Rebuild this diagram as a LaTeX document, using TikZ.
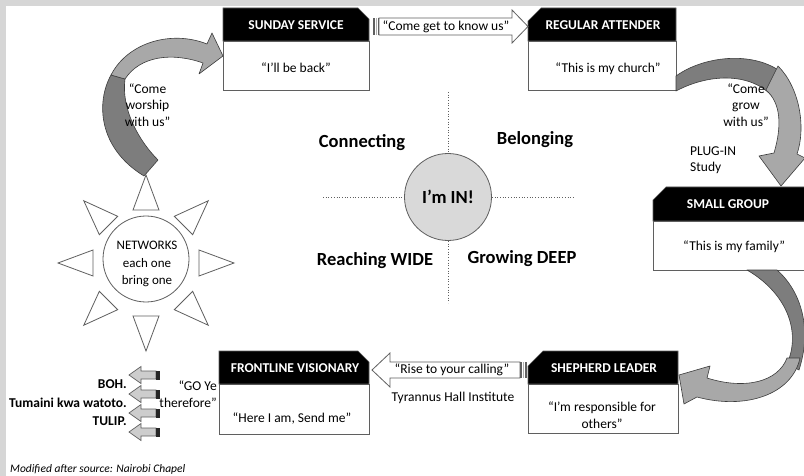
\documentclass[tikz,border=0pt]{standalone}
\usepackage{fontspec}
\setmainfont{Carlito}
\usetikzlibrary{calc}

\definecolor{edge}{RGB}{95,95,95}
\definecolor{bandedge}{RGB}{60,60,60}
\definecolor{bandlight}{RGB}{168,168,168}
\definecolor{banddark}{RGB}{125,125,125}
\definecolor{hubfill}{RGB}{217,217,217}
\definecolor{framegray}{RGB}{214,214,214}
\definecolor{tabfill}{RGB}{205,205,205}

\begin{document}
\begin{tikzpicture}[x=1pt, y=-1pt,
  hdrshape/.style={fill=black, draw=edge, line width=0.6pt},
  stagebody/.style={draw=edge, fill=white, line width=0.8pt, inner sep=0pt},
  hdrtext/.style={text=white, font=\fontsize{13.5}{15}\selectfont\bfseries},
  bodytext/.style={font=\fontsize{13.5}{16.5}\selectfont, align=center, inner sep=0pt},
  lbl/.style={font=\fontsize{13.5}{16.5}\selectfont, align=center, inner sep=0pt},
  boldlbl/.style={font=\fontsize{13.5}{18.5}\selectfont\bfseries, inner sep=0pt},
  quadrant/.style={font=\fontsize{18.5}{20}\selectfont\bfseries, inner sep=0pt},
  axis/.style={draw=edge, dotted, line width=0.7pt},
  band/.style={draw=bandedge, line width=0.6pt, line join=round},
  blockarrow/.style={draw=edge, fill=white, line width=0.8pt, line join=miter},
  ray/.style={draw=edge, fill=white, line width=0.8pt, line join=miter},
  tab/.style={draw=edge, fill=tabfill, line width=0.7pt, line join=miter}]

% page and frame strips
\useasboundingbox (0,0) rectangle (804,476);
\fill[white] (0,0) rectangle (804,476);
\fill[framegray] (0,0) rectangle (804,6);
\fill[framegray] (0,0) rectangle (6,476);

% ---------- stage boxes ----------
% Sunday service (clipped top-right corner)
\node[stagebody, minimum width=146pt, minimum height=49pt] (sunday) at (296,65.5) {};
\path[hdrshape] (223,8) -- (358,8) -- (369,19) -- (369,41) -- (223,41) -- cycle;
\node[hdrtext] (sundayhdr) at (296,25) {SUNDAY SERVICE};
\node[bodytext] (sundaytxt) at (296,68) {“I’ll be back”};

% Regular attender (clipped top-left corner)
\node[stagebody, minimum width=148pt, minimum height=49pt] (regular) at (602,65.5) {};
\path[hdrshape] (541,8) -- (676,8) -- (676,41) -- (528,41) -- (528,21) -- cycle;
\node[hdrtext] (regularhdr) at (603,25) {REGULAR ATTENDER};
\node[bodytext] (regulartxt) at (608,69) {“This is my church”};

% Small group (runs off the right edge)
\node[stagebody, minimum width=156pt, minimum height=49pt] (small) at (731,245.5) {};
\path[hdrshape] (666,187) -- (812,187) -- (812,221) -- (653,221) -- (653,200) -- cycle;
\node[hdrtext] (smallhdr) at (728,204) {SMALL GROUP};
\node[bodytext] (smalltxt) at (734,247) {“This is my family”};

% Shepherd leader
\node[stagebody, minimum width=150pt, minimum height=49pt] (shepherd) at (603,408.5) {};
\path[hdrshape] (543,351) -- (678,351) -- (678,384) -- (528,384) -- (528,366) -- cycle;
\node[hdrtext] (shepherdhdr) at (604,368) {SHEPHERD LEADER};
\node[bodytext] (shepherdtxt) at (602,415) {“I’m responsible for\\others”};

% Frontline visionary
\node[stagebody, minimum width=150pt, minimum height=50pt] (frontline) at (294,409) {};
\path[hdrshape] (219,351) -- (358,351) -- (369,362) -- (369,384) -- (219,384) -- cycle;
\node[hdrtext] (frontlinehdr) at (295,368) {FRONTLINE VISIONARY};
\node[bodytext] (frontlinetxt) at (292,418) {“Here I am, Send me”};

% ---------- straight block arrows ----------
\draw[blockarrow] (379,18) -- (512,18) -- (512,10) -- (528,26.5) -- (512,43) -- (512,35) -- (379,35) -- cycle;
\fill[edge] (373,18) rectangle (375,35);
\fill[edge!50] (375.6,18) rectangle (377,35);
\fill[edge] (377.6,18) rectangle (379,35);
\node[lbl] (knowus) at (446,27) {“Come get to know us”};

\draw[blockarrow] (520,362) -- (390,362) -- (390,353) -- (372,370) -- (390,387) -- (390,378) -- (520,378) -- cycle;
\fill[edge] (520,362) rectangle (522,378);
\fill[edge!50] (522.6,362) rectangle (524,378);
\fill[edge] (524.6,362) rectangle (526.5,378);
\node[lbl] (calling) at (452,370) {“Rise to your calling”};
\node[lbl] (tyrannus) at (453,398) {Tyrannus Hall Institute};

% ---------- curved ribbon arrows ----------
% networks -> Sunday service
\filldraw[band, fill=banddark] (111,75) .. controls (96,102) and (98,148) .. (144,176)
  -- (158,160) .. controls (138,140) and (121,108) .. (125,79) -- cycle;
\filldraw[band, fill=bandlight] (111,75) .. controls (128,42) and (172,30) .. (207,44)
  -- (212,33) -- (223,56) -- (199,74) -- (203,63)
  .. controls (172,52) and (140,56) .. (125,79) -- cycle;
\node[lbl] (worship) at (147.5,105) {“Come\\worship\\with us”};

% regular attender -> small group
\filldraw[band, fill=banddark] (676,76) .. controls (705,55) and (758,50) .. (786,76)
  -- (772,96) .. controls (752,74) and (712,72) .. (676,91) -- cycle;
\filldraw[band, fill=bandlight] (778,66) .. controls (800,88) and (806,128) .. (797,154)
  -- (805,158) -- (781,186) -- (759,156) -- (774,153)
  .. controls (782,126) and (781,103) .. (766,90) -- cycle;
\node[lbl] (grow) at (746,105) {“Come\\grow\\with us”};
\node[lbl, align=left, anchor=west] (plugin) at (690,160) {PLUG-IN\\Study};

% small group -> shepherd leader
\filldraw[band, fill=banddark] (747,270) .. controls (785,292) and (802,330) .. (787,364)
  -- (799,370) .. controls (812,330) and (802,292) .. (777,270) -- cycle;
\filldraw[band, fill=bandlight] (800,358) .. controls (792,395) and (745,410) .. (697,397)
  -- (684,404) -- (679,375) -- (710,366) -- (707,378)
  .. controls (745,390) and (778,382) .. (787,358) -- cycle;

% ---------- centre quadrants ----------
\node[circle, fill=hubfill, draw=edge, line width=0.8pt, minimum size=87pt, inner sep=0pt,
  font=\fontsize{18.5}{20}\selectfont\bfseries] (hub) at (448,197) {I’m IN!};
\coordinate (axtop) at (448,92);
\coordinate (axbottom) at (448,303);
\coordinate (axleft) at (323,197);
\coordinate (axright) at (573,197);
\draw[axis] (axtop) -- (hub.north);
\draw[axis] (hub.south) -- (axbottom);
\draw[axis] (axleft) -- (hub.west);
\draw[axis] (hub.east) -- (axright);
\node[quadrant] (connecting) at (362,143) {Connecting};
\node[quadrant] (belonging) at (535,140) {Belonging};
\node[quadrant] (reaching) at (375,261) {Reaching WIDE};
\node[quadrant] (growing) at (522,259) {Growing DEEP};

% ---------- networks sun ----------
\node[circle, draw=edge, fill=white, line width=0.8pt, minimum size=86pt, inner sep=0pt] (sun) at (146,259) {};
\node[lbl, font=\fontsize{13}{17.5}\selectfont] (suntxt) at (147,264) {NETWORKS\\each one\\bring one};
\coordinate (raycenter) at (146,263);
\foreach \a in {0,45,...,315}
  \draw[ray] ($(raycenter)+(\a:53)+(\a+90:13)$) -- ($(raycenter)+(\a:88)$)
    -- ($(raycenter)+(\a:53)+(\a-90:13)$) -- cycle;

% ---------- outreach tabs ----------
\foreach \yy in {375,394,413,432} {
  \draw[tab] (129,\yy) -- (141,{\yy-8.5}) -- (141,{\yy-4}) -- (156,{\yy-4})
    -- (156,{\yy+4}) -- (141,{\yy+4}) -- (141,{\yy+8.5}) -- cycle;
  \fill[black!85] (156,{\yy-4.5}) rectangle (160,{\yy+4.5});
}
\node[boldlbl, anchor=east] (boh) at (127,384) {BOH.};
\node[boldlbl, anchor=east] (tumaini) at (127,403) {Tumaini kwa watoto.};
\node[boldlbl, anchor=east] (tulip) at (127,421) {TULIP.};
\node[lbl, align=right, anchor=east] (goye) at (217,394) {“GO Ye\\therefore”};

% ---------- footnote ----------
\node[anchor=west, inner sep=0pt, font=\fontsize{11.5}{13}\selectfont\itshape] (source) at (10,469)
  {Modified after source: Nairobi Chapel};
\end{tikzpicture}
\end{document}
